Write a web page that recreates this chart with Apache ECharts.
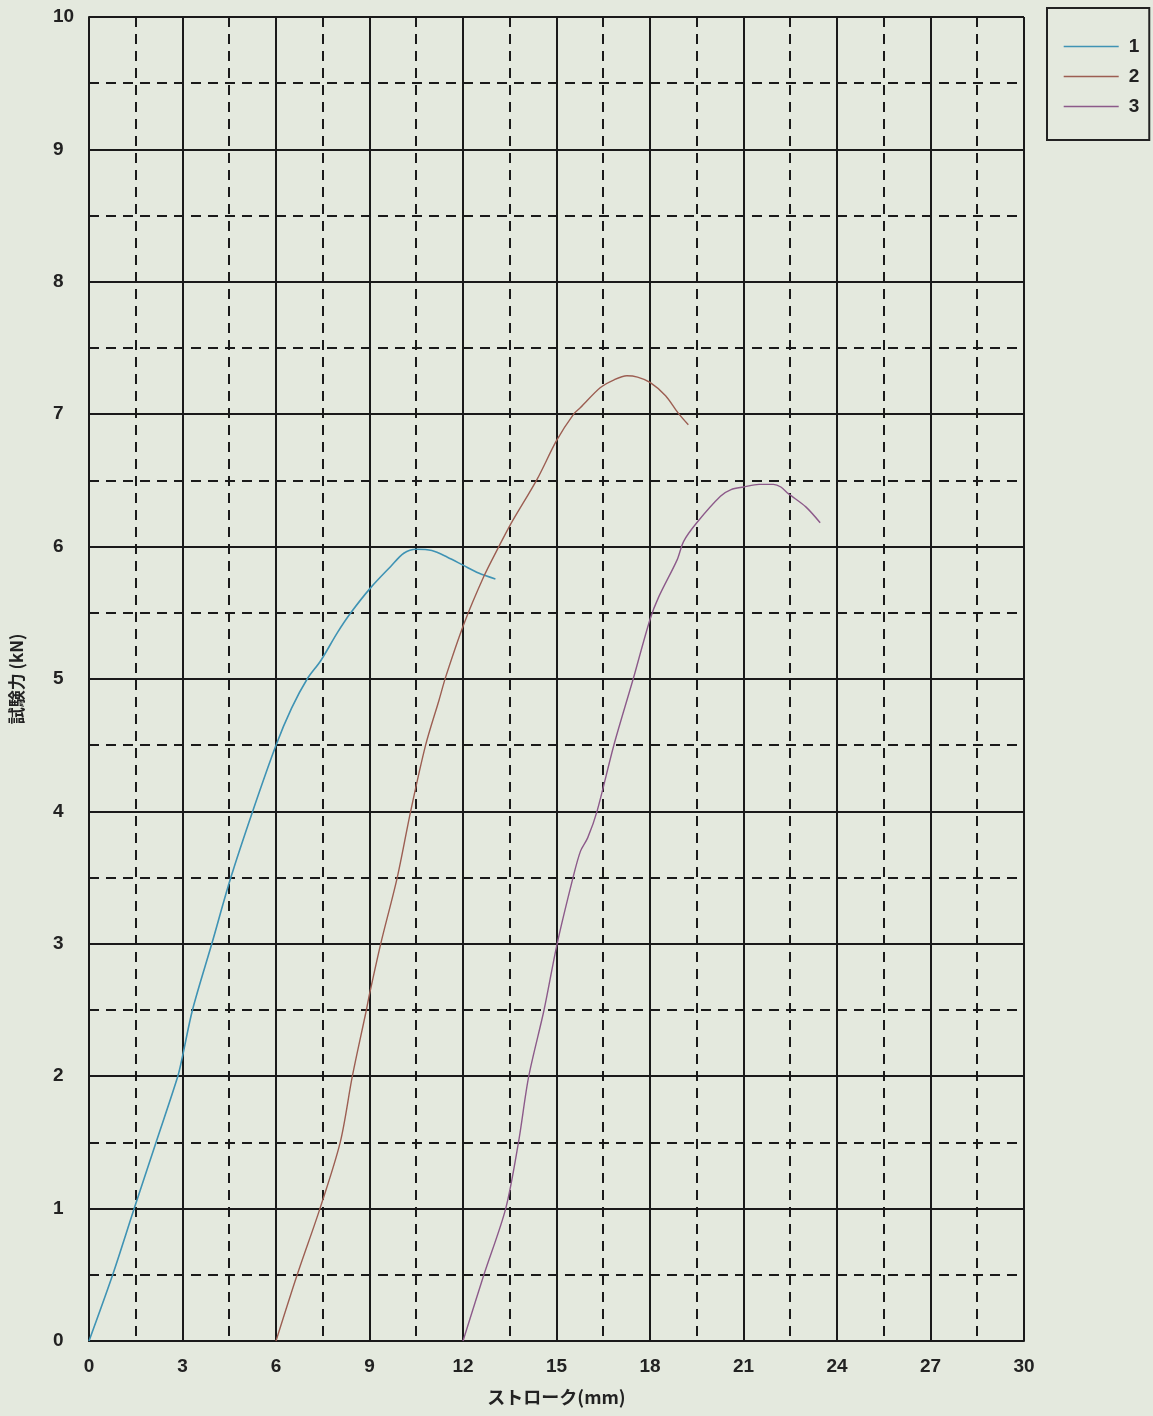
<!DOCTYPE html>
<html>
<head>
<meta charset="utf-8">
<script src="https://cdn.jsdelivr.net/npm/echarts@6/dist/echarts.min.js"></script>
<style>
html,body{margin:0;padding:0;background:#e4e9de;}
#c{width:1153px;height:1416px;}
</style>
</head>
<body>
<div id="c"></div>
<script>
// ---- data (stroke in mm, force in kN) ----
var seriesNames = ['1', '2', '3'];
var stroke1 = [0, 0.76, 1.45, 2.15, 2.85, 3.0, 3.32, 3.94, 4.55, 5.25, 6.0, 6.5, 7.0, 7.44, 7.97, 8.4, 9.04, 9.68, 10.1, 10.5, 11.0, 11.5, 12.0, 12.5, 13.04];
var force1  = [0, 0.5, 1.0, 1.5, 2.0, 2.15, 2.5, 3.0, 3.5, 4.0, 4.5, 4.78, 5.0, 5.14, 5.35, 5.5, 5.69, 5.85, 5.95, 5.98, 5.97, 5.92, 5.86, 5.8, 5.755];
var stroke2 = [6.0, 6.68, 7.41, 8.06, 8.45, 8.9, 9.0, 9.36, 9.89, 10.32, 10.8, 11.23, 11.45, 12.02, 12.66, 13.15, 13.53, 14.38, 15.0, 15.55, 15.77, 16.4, 16.85, 17.26, 17.6, 18.0, 18.5, 18.9, 19.23];
var force2  = [0, 0.5, 1.0, 1.5, 2.0, 2.5, 2.62, 3.0, 3.5, 4.0, 4.5, 4.84, 5.02, 5.41, 5.77, 6.0, 6.17, 6.51, 6.8, 7.0, 7.05, 7.2, 7.26, 7.29, 7.28, 7.24, 7.14, 7.01, 6.92];
var stroke3 = [12.0, 12.67, 13.37, 13.78, 14.11, 14.6, 15.02, 15.53, 15.77, 16.0, 16.3, 16.84, 17.46, 18.0, 18.28, 18.87, 19.08, 19.5, 20.26, 20.6, 21.0, 21.5, 21.96, 22.2, 22.44, 23.0, 23.46];
var force3  = [0, 0.5, 1.0, 1.5, 2.0, 2.5, 3.0, 3.5, 3.7, 3.8, 4.0, 4.5, 5.0, 5.45, 5.62, 5.9, 6.04, 6.18, 6.38, 6.43, 6.45, 6.47, 6.47, 6.45, 6.4, 6.3, 6.18];
var xTickLabels = ['0','3','6','9','12','15','18','21','24','27','30'];
var yTickLabels = ['0','1','2','3','4','5','6','7','8','9','10'];

function pairs(xs, ys){ var out=[]; for (var i=0;i<xs.length;i++) out.push([xs[i], ys[i]]); return out; }

var colors = ['#3f93b4', '#9c5e52', '#8c5a8a'];
var fontFam = '"Liberation Sans", Arial, sans-serif';
var cjkFam = '"Noto Sans CJK JP", sans-serif';

var chart = echarts.init(document.getElementById('c'), null, {renderer:'canvas'});
chart.setOption({
  backgroundColor: '#e4e9de',
  animation: false,
  grid: {left: 88, right: 129, top: 17, bottom: 75, containLabel: false},
  legend: {
    orient: 'vertical',
    left: 1047, top: 8,
    padding: [29, 10, 24, 16],
    itemWidth: 55, itemHeight: 14, itemGap: 11,
    borderColor: '#222', borderWidth: 2,
    itemStyle: {opacity: 0},
    lineStyle: {width: 1.4},
    textStyle: {fontSize: 19, fontWeight: 'bold', color: '#222', fontFamily: fontFam, padding: [0,0,0,5]},
    data: seriesNames
  },
  xAxis: {
    type: 'value', min: 0, max: 30, interval: 3,
    name: 'ストローク(mm)', nameLocation: 'middle', nameGap: 47,
    nameTextStyle: {fontSize: 18, fontWeight: 'bold', color: '#222', fontFamily: cjkFam},
    axisLine: {show: true, lineStyle: {color: '#1a1a1a', width: 2}},
    axisTick: {show: false},
    axisLabel: {fontSize: 19, fontWeight: 'bold', color: '#222', fontFamily: fontFam, margin: 16,
      formatter: function(v){ return xTickLabels[Math.round(v/3)]; }},
    splitLine: {show: true, lineStyle: {color: '#1a1a1a', width: 2}},
    minorTick: {show: false, splitNumber: 2},
    minorSplitLine: {show: true, lineStyle: {color: '#1a1a1a', width: 2, type: [10, 7]}}
  },
  yAxis: {
    type: 'value', min: 0, max: 10, interval: 1,
    name: '試験力 (kN)', nameLocation: 'middle', nameGap: 64,
    nameTextStyle: {fontSize: 17, fontWeight: 'bold', color: '#222', fontFamily: cjkFam},
    axisLine: {show: true, lineStyle: {color: '#1a1a1a', width: 2}},
    axisTick: {show: false},
    axisLabel: {fontSize: 19, fontWeight: 'bold', color: '#222', fontFamily: fontFam, margin: 36, align: 'left',
      formatter: function(v){ return yTickLabels[Math.round(v)]; }},
    splitLine: {show: true, lineStyle: {color: '#1a1a1a', width: 2}},
    minorTick: {show: false, splitNumber: 2},
    minorSplitLine: {show: true, lineStyle: {color: '#1a1a1a', width: 2, type: [10, 7]}}
  },
  series: [
    {name: seriesNames[0], type: 'line', data: pairs(stroke1, force1), smooth: 0.3, symbol: 'none', lineStyle: {color: colors[0], width: 1.6}, itemStyle: {color: colors[0]}},
    {name: seriesNames[1], type: 'line', data: pairs(stroke2, force2), smooth: 0.3, symbol: 'none', lineStyle: {color: colors[1], width: 1.4}, itemStyle: {color: colors[1]}},
    {name: seriesNames[2], type: 'line', data: pairs(stroke3, force3), smooth: 0.3, symbol: 'none', lineStyle: {color: colors[2], width: 1.4}, itemStyle: {color: colors[2]}}
  ]
});
</script>
</body>
</html>
